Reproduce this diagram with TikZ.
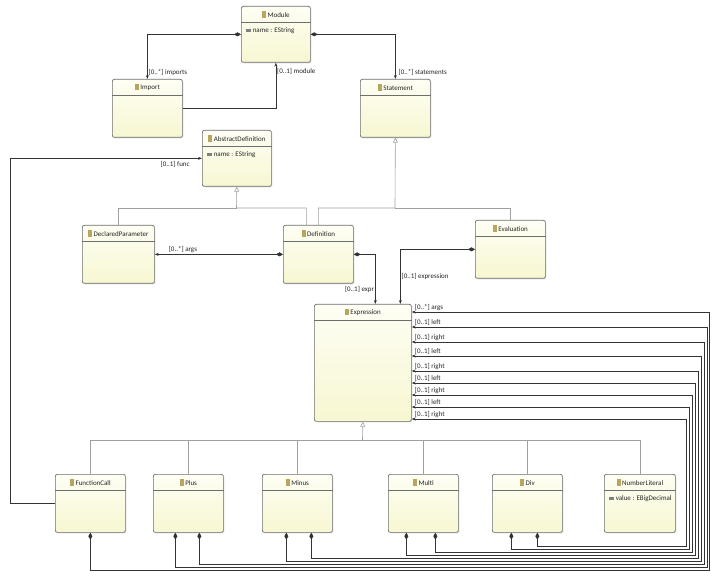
\documentclass[tikz,border=0pt]{standalone}
\usepackage{fontspec}
\setmainfont{Carlito}
\usetikzlibrary{arrows.meta,shadows,calc}
\definecolor{bd}{HTML}{6E6E6E}
\definecolor{ln}{HTML}{333333}
\definecolor{gl}{HTML}{A0A0A0}
\definecolor{ic}{HTML}{E6CF78}
\definecolor{fa}{HTML}{FEFEF4}
\definecolor{fb}{HTML}{F7F7D2}
\newcommand\clsicon{{\color{ic!80!black}\rule[-0.5pt]{4pt}{6.5pt}}}
\newcommand\attricon{{\color{gray}\rule[1.2pt]{5pt}{2.5pt}}}
\tikzset{
  box/.style={draw=bd, rounded corners=2pt, line width=0.7pt, top color=fa, bottom color=fb, drop shadow={opacity=0.25,shadow xshift=1pt,shadow yshift=-1pt}, inner sep=0pt},
  txt/.style={font=\fontsize{7}{8.5}\selectfont, inner sep=1pt, text=black!85},
  comp/.style={draw=ln, line width=0.6pt, {Diamond[length=7pt,width=4pt]}-{Stealth[length=4pt,width=3pt]}},
  assoc/.style={draw=ln, line width=0.6pt, -{Stealth[length=4pt,width=3pt]}},
  genl/.style={draw=gl, line width=0.6pt},
  gen/.style={draw=gl, line width=0.6pt, -{Triangle[open,length=5pt,width=5pt]}},
}
\newcommand\umlcls[6]{%
  \node[box, anchor=north west, minimum width={(#4-#2)*1pt}, minimum height={(#5-#3)*1pt}] (#1) at (#2,#3) {};
  \draw[bd, line width=0.5pt] ([yshift=-16pt]#1.north west) -- ([yshift=-16pt]#1.north east);
  \node[txt] (#1-t) at ([yshift=-8.5pt]#1.north) {\clsicon\ #6};}
\newcommand\umlattr[2]{\node[txt, anchor=west] (#1-a) at ([xshift=4pt,yshift=-25pt]#1.north west) {\attricon\ #2};}
\begin{document}
\begin{tikzpicture}[x=1pt,y=-1pt]
\useasboundingbox (0,0) rectangle (724,583);
\fill[white] (0,0) rectangle (724,583);
\umlcls{module}{241}{6}{310}{62}{Module}
\umlattr{module}{name : EString}
\umlcls{import}{112}{79}{182}{137}{Import}
\umlcls{statement}{360}{79}{430}{137}{Statement}
\umlcls{abstractdefinition}{202}{130}{271}{186}{AbstractDefinition}
\umlattr{abstractdefinition}{name : EString}
\umlcls{declaredparameter}{82}{225}{154}{283}{DeclaredParameter}
\umlcls{definition}{283}{225}{353}{283}{Definition}
\umlcls{evaluation}{475}{220}{545}{278}{Evaluation}
\umlcls{expression}{314}{304}{411}{421}{Expression}
\umlcls{functioncall}{55}{474}{125}{532}{FunctionCall}
\umlcls{plus}{153}{474}{223}{532}{Plus}
\umlcls{minus}{262}{474}{332}{532}{Minus}
\umlcls{multi}{388}{474}{458}{532}{Multi}
\umlcls{div}{492}{474}{562}{532}{Div}
\umlcls{numberliteral}{604}{474}{675}{532}{NumberLiteral}
\umlattr{numberliteral}{value : EBigDecimal}

% top associations
\draw[comp] (module.west) -| (import.north) node[txt, pos=0.93, anchor=west] {[0..*] imports};
\draw[assoc] (import.east) -| (module.south) node[txt, pos=0.9, anchor=west] {[0..1] module};
\draw[comp] (module.east) -| (statement.north) node[txt, pos=0.93, anchor=west, xshift=2pt] {[0..*] statements};

% generalizations
\coordinate (sj) at (395,208);
\coordinate (aj) at (236.5,208);
\draw[genl] (evaluation.north) |- (sj);
\draw[gen] (definition.north) |- (sj) -- (statement.south);
\draw[genl] (declaredparameter.north) |- (aj);
\draw[gen] ([xshift=-12pt]definition.north) |- (aj) -- (abstractdefinition.south);
\coordinate (ej) at (362.5,440);
\foreach \n in {functioncall,plus,minus,multi,div,numberliteral}{\draw[genl] (\n.north) |- (ej);}
\draw[gen] (ej) -- (expression.south);

% middle associations
\draw[comp] (definition.west) -- (declaredparameter.east) node[txt, pos=0.9, anchor=south west] {[0..*] args};
\draw[comp] (definition.east) -| ([xshift=12.5pt]expression.north) node[txt, pos=0.85, anchor=east] {[0..1] expr};
\draw[comp] (evaluation.west) -| ([xshift=37.5pt]expression.north) node[txt, pos=0.75, anchor=west] {[0..1] expression};
\draw[assoc] (functioncall.west) -- ++(-45,0) |- (abstractdefinition.west) node[txt, pos=0.93, anchor=north, yshift=-2pt] {[0..1] func};

% expression references
\foreach \n/\dx/\xv/\yh/\ye/\lab in {
  functioncall/0/709/570/8/{[0..*] args},
  plus/-13/707/567/23/{[0..1] left},
  plus/11/704/564/38/{[0..1] right},
  minus/-11/701/561/52/{[0..1] left},
  minus/14/698/558/67/{[0..1] right},
  multi/-17/695/555/79/{[0..1] left},
  multi/12/692/552/91/{[0..1] right},
  div/-16/689/549/103/{[0..1] left},
  div/10/686/546/115/{[0..1] right}}{
  \draw[comp] ([xshift=\dx pt]\n.south) |- (\xv,\yh) |- ([yshift=-\ye pt]expression.north east);
  \node[txt, anchor=south west] at ([xshift=2pt,yshift=-\ye pt]expression.north east) {\lab};
}
\end{tikzpicture}
\end{document}
